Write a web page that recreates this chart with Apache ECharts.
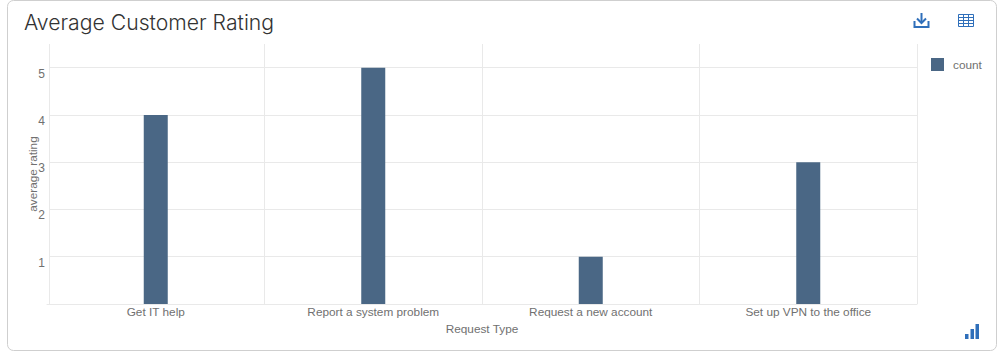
<!DOCTYPE html>
<html lang="en">
<head>
    <meta charset="utf-8">
    <title>Average Customer Rating</title>
    <script src="https://cdn.jsdelivr.net/npm/echarts@6/dist/echarts.min.js"></script>
    <style type="text/css">
        html, body { margin: 0; padding: 0; background: #fff; }
        #main { width: 999px; height: 353px; }
    </style>
</head>
<body>
<div id="main"></div>
<script type="text/javascript">
    var categories = ['Get IT help', 'Report a system problem', 'Request a new account', 'Set up VPN to the office'];
    var counts = [4, 5, 1, 3];
    var seriesName = 'count';
    var yMax = 5.5;

    var gridLine = '#e9e9e9';
    var labelColor = '#707070';
    var iconBlue = '#2f6fba';

    var myChart = echarts.init(document.getElementById('main'), null, {renderer: 'svg'});
    var option = {
        animation: false,
        textStyle: {fontFamily: '"Liberation Sans", Arial, sans-serif'},
        title: {
            text: 'Average Customer Rating',
            left: 19,
            top: 6,
            textStyle: {
                fontFamily: 'Inter',
                fontWeight: 300,
                fontSize: 21.2,
                color: '#333'
            }
        },
        legend: {
            data: [seriesName],
            orient: 'vertical',
            left: 926,
            top: 53,
            itemWidth: 13,
            itemHeight: 13,
            itemGap: 8,
            icon: 'rect',
            textStyle: {fontSize: 11.8, color: labelColor, padding: [0, 0, 0, 4]}
        },
        grid: {left: 47, right: 82, top: 44, bottom: 49},
        xAxis: {
            type: 'category',
            data: categories,
            name: 'Request Type',
            nameLocation: 'middle',
            nameGap: 18,
            nameTextStyle: {fontSize: 11.8, color: labelColor},
            axisLine: {lineStyle: {color: gridLine}},
            axisTick: {show: false},
            axisLabel: {fontSize: 11.8, color: labelColor, margin: 2},
            splitLine: {show: true, showMinLine: false, lineStyle: {color: gridLine}}
        },
        yAxis: {
            type: 'value',
            min: 0,
            max: yMax,
            interval: 1,
            name: 'average rating',
            nameLocation: 'middle',
            nameGap: 8,
            nameMoveOverlap: false,
            nameTextStyle: {fontSize: 11.8, color: labelColor},
            axisLine: {show: false},
            axisTick: {show: false},
            axisLabel: {
                fontSize: 12,
                color: labelColor,
                margin: 2,
                showMinLabel: false,
                showMaxLabel: false,
                verticalAlign: 'top'
            },
            splitLine: {show: true, showMaxLine: false, lineStyle: {color: gridLine}}
        },
        series: [{
            name: seriesName,
            type: 'bar',
            data: counts,
            barWidth: 24,
            itemStyle: {color: '#4a6785'}
        }],
        graphic: [
            // card border
            {type: 'rect', z: -1, shape: {x: 7.5, y: 0.5, width: 989, height: 350, r: 6},
                style: {fill: '#fff', stroke: '#cfcfcf', lineWidth: 1}},
            // the plot's left edge sits 2px inside the bottom axis
            {type: 'rect', z: 1, shape: {x: 46, y: 44, width: 3, height: 260}, style: {fill: '#fff'}},
            {type: 'line', z: 1, shape: {x1: 49.5, y1: 44, x2: 49.5, y2: 304}, style: {stroke: gridLine, lineWidth: 1}},
            // download icon
            {type: 'group', children: [
                {type: 'polyline', shape: {points: [[914.5, 21], [914.5, 27], [928.5, 27], [928.5, 21]]},
                    style: {fill: 'none', stroke: iconBlue, lineWidth: 2}},
                {type: 'polyline', shape: {points: [[921.5, 13], [921.5, 23]]},
                    style: {fill: 'none', stroke: iconBlue, lineWidth: 2}},
                {type: 'polyline', shape: {points: [[917, 18.5], [921.5, 23], [926, 18.5]]},
                    style: {fill: 'none', stroke: iconBlue, lineWidth: 2}}
            ]},
            // table icon
            {type: 'group', children: [
                {type: 'rect', shape: {x: 958.5, y: 14.5, width: 15, height: 12},
                    style: {fill: 'none', stroke: iconBlue, lineWidth: 1}},
                {type: 'line', shape: {x1: 958.5, y1: 17.5, x2: 973.5, y2: 17.5}, style: {stroke: iconBlue, lineWidth: 1}},
                {type: 'line', shape: {x1: 958.5, y1: 20.5, x2: 973.5, y2: 20.5}, style: {stroke: iconBlue, lineWidth: 1}},
                {type: 'line', shape: {x1: 958.5, y1: 23.5, x2: 973.5, y2: 23.5}, style: {stroke: iconBlue, lineWidth: 1}},
                {type: 'line', shape: {x1: 963.5, y1: 14.5, x2: 963.5, y2: 26.5}, style: {stroke: iconBlue, lineWidth: 1}},
                {type: 'line', shape: {x1: 968.5, y1: 14.5, x2: 968.5, y2: 26.5}, style: {stroke: iconBlue, lineWidth: 1}}
            ]},
            // chart type icon
            {type: 'group', children: [
                {type: 'rect', shape: {x: 965, y: 334, width: 3.5, height: 5}, style: {fill: iconBlue}},
                {type: 'rect', shape: {x: 970.5, y: 329, width: 3.5, height: 10}, style: {fill: iconBlue}},
                {type: 'rect', shape: {x: 975.5, y: 324, width: 3.5, height: 15}, style: {fill: iconBlue}}
            ]}
        ]
    };
    myChart.setOption(option);
</script>
</body>
</html>
